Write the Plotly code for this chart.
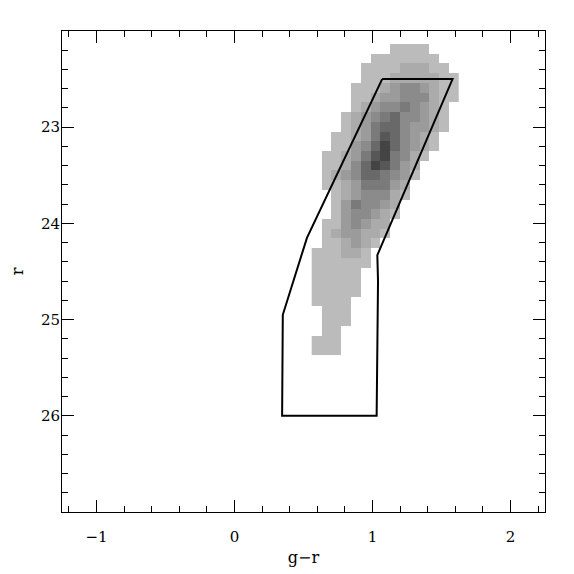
import numpy as np
import plotly.graph_objects as go

# Hess diagram: grey level per cell (0 = empty, 8 = densest)
# one string per r-bin (top to bottom), one character per g-r bin
hess_rows = [
    "000000001111000",
    "000000111111100",
    "000001111222110",
    "000001112222211",
    "000011123443211",
    "000011233444211",
    "000012344543210",
    "000123456443210",
    "000123566433210",
    "001123576432100",
    "001134686432100",
    "011235785421000",
    "011246875320000",
    "012346654310000",
    "011235553200000",
    "001234442100000",
    "001354432000000",
    "001344321000000",
    "011343220000000",
    "012332210000000",
    "011232100000000",
    "111221000000000",
    "111111000000000",
    "111110000000000",
    "111110000000000",
    "111110000000000",
    "111100000000000",
    "011100000000000",
    "011100000000000",
    "011000000000000",
    "111000000000000",
    "111000000000000",
]
gr_first_bin = 0.595
gr_bin = 0.0712
r_first_bin = 22.186
r_bin = 0.101

# selection box in the CMD
box_gr = [1.07, 1.58, 1.035, 1.04, 1.03, 0.345, 0.35, 0.525, 1.07]
box_r = [22.5, 22.5, 24.33, 24.6, 26.0, 26.0, 24.95, 24.15, 22.5]

z = np.array([[int(c) for c in row] for row in hess_rows], dtype=float)
z[z == 0] = np.nan

greys = ["#ffffff", "#bbbbbb", "#ababab", "#9b9b9b", "#8b8b8b",
         "#7a7a7a", "#696969", "#575757", "#444444"]
cscale = [[i / 8, g] for i, g in enumerate(greys)]

fig = go.Figure()
fig.add_trace(go.Heatmap(z=z, x0=gr_first_bin, dx=gr_bin, y0=r_first_bin, dy=r_bin,
                         colorscale=cscale, zmin=0, zmax=8, showscale=False,
                         hoverinfo="skip"))
fig.add_trace(go.Scatter(x=box_gr, y=box_r, mode="lines",
                         line=dict(color="black", width=2), hoverinfo="skip"))

font = dict(family="DejaVu Serif", size=15, color="black")
title_font = dict(family="DejaVu Serif", size=16, color="black")
axis_common = dict(showline=True, linecolor="black", linewidth=1, mirror="ticks",
                   ticks="inside", ticklen=12, tickwidth=1, tickcolor="black",
                   showgrid=False, zeroline=False, tickfont=font, automargin=False,
                   minor=dict(dtick=0.2, ticks="inside", ticklen=6, tickwidth=1,
                              tickcolor="black", showgrid=False))

fig.update_xaxes(range=[-1.25, 2.25], tickvals=[-1, 0, 1, 2],
                 ticktext=["\u22121", "0", "1", "2"],
                 title=dict(text="g\u2212r", font=title_font, standoff=6),
                 ticklabelstandoff=11, **axis_common)
fig.update_yaxes(range=[27, 22], tickvals=[23, 24, 25, 26],
                 title=dict(text="r", font=title_font, standoff=20),
                 ticklabelstandoff=-2, **axis_common)

# page body adds 8px around the figure, so the figure is 566 px
fig.update_layout(width=566, height=566, margin=dict(l=54, r=29, t=23, b=62),
                  plot_bgcolor="white", paper_bgcolor="white", showlegend=False)

fig.write_html("out.html")
